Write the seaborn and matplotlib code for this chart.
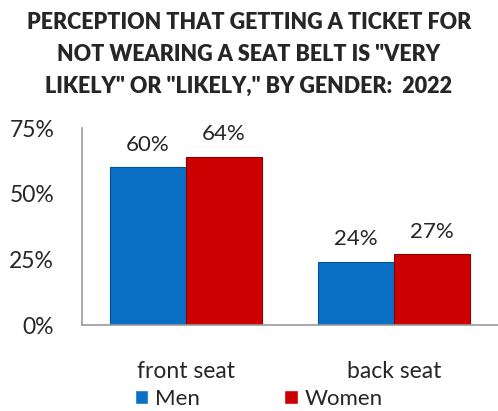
import pandas as pd
import matplotlib.pyplot as plt
import seaborn as sns
from matplotlib.ticker import FixedLocator

# chart values
seats = ['front seat', 'back seat']
men = [60, 24]
women = [64, 27]
genders = ['Men', 'Women']
colors = ['#0A70C6', '#CC0000']

data = pd.DataFrame({
    'seat': seats * 2,
    'gender': ['Men'] * 2 + ['Women'] * 2,
    'value': men + women,
})

sns.set_style('white')
plt.rcParams['font.family'] = ['Lato', 'DejaVu Sans']

fig = plt.figure(figsize=(4.98, 4.11), dpi=100)
ax = fig.add_axes([82 / 498, 1 - 325 / 411, 416 / 498, 197 / 411])

sns.barplot(data=data, x='seat', y='value', hue='gender', palette=colors,
            width=0.73, gap=0, saturation=1, ax=ax, legend=True)

for cont in ax.containers:
    for bar in cont:
        bar.set_edgecolor('#8a0000' if bar.get_facecolor()[0] > 0.5 else '#05508f')
        bar.set_linewidth(0.8)
    ax.bar_label(cont, labels=[f'{v:.0f}%' for v in cont.datavalues],
                 padding=9, fontsize=16)

ax.set_ylim(0, 75)
ax.set_xlim(-0.5, 1.5)
ax.set_yticks([0, 25, 50, 75])
ax.set_yticklabels(['0%', '25%', '50%', '75%'], fontsize=16.5)
ax.tick_params(axis='y', length=0, pad=20)
ax.tick_params(axis='x', length=0, pad=26, labelsize=16.5)
ax.xaxis.set_minor_locator(FixedLocator([-0.5, 0.5, 1.5]))
ax.tick_params(axis='x', which='minor', length=6, color='#999999', width=1.2, direction='out')
ax.set_xlabel('')
ax.set_ylabel('')

for s in ['top', 'right']:
    ax.spines[s].set_visible(False)
for s in ['left', 'bottom']:
    ax.spines[s].set_color('#999999')
    ax.spines[s].set_linewidth(1.2)

ax.legend(loc='center', bbox_to_anchor=(0.425, -0.375), ncol=2, frameon=False,
          fontsize=16, handlelength=0.6, handleheight=0.6, handletextpad=0.3,
          columnspacing=3.8, borderpad=0)

fig.suptitle('PERCEPTION THAT GETTING A TICKET FOR\nNOT WEARING A SEAT BELT IS "VERY\nLIKELY" OR "LIKELY," BY GENDER:  2022',
             fontsize=15.5, fontweight='heavy', y=0.972, linespacing=1.65)

fig.savefig('out.png', dpi=100)
